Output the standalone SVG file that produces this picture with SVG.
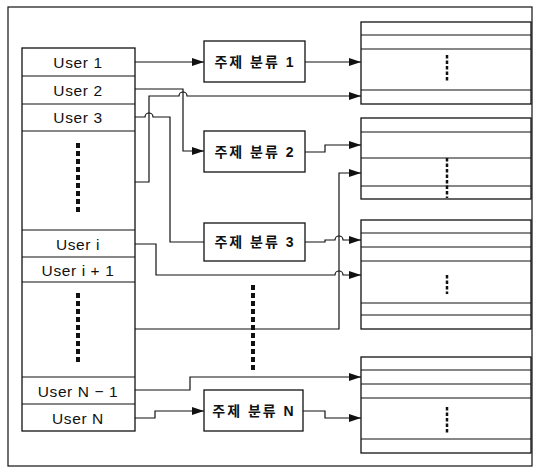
<svg xmlns="http://www.w3.org/2000/svg" width="540" height="470" viewBox="0 0 540 470">
<style>
.box{fill:#fff;stroke:#111;stroke-width:1.3}
.ln{fill:none;stroke:#111;stroke-width:1.2}
.wire{fill:none;stroke:#111;stroke-width:1.2}
.ut{font-family:"Liberation Sans",Arial,sans-serif;font-size:15.5px;fill:#111;text-anchor:middle;dominant-baseline:central;letter-spacing:0.6px}
.tt{font-family:"Liberation Sans","Noto Sans CJK KR",sans-serif;font-size:14px;font-weight:bold;fill:#111;text-anchor:middle;dominant-baseline:central;letter-spacing:2px}
.dotsB{fill:none;stroke:#111;stroke-width:4;stroke-dasharray:5 3;stroke-linecap:butt}
.dotsS{fill:none;stroke:#111;stroke-width:2.5;stroke-dasharray:3.5 2}
</style>
<defs>
<marker id="ah" viewBox="0 0 12 8" refX="12" refY="4" markerWidth="12" markerHeight="8" markerUnits="userSpaceOnUse" orient="auto">
<path d="M0,0 L12,4 L0,8 z" fill="#111"/>
</marker>
</defs>
<rect x="8" y="7" width="524" height="459" fill="none" stroke="#111" stroke-width="1.2"/>
<g id="users">
<rect class="box" x="22" y="48" width="113" height="383"/>
<path class="ln" d="M22,76H135M22,104H135M22,131H135M22,230H135M22,257H135M22,282H135M22,377H135M22,404H135"/>
<text class="ut" x="78" y="62">User 1</text>
<text class="ut" x="78" y="90">User 2</text>
<text class="ut" x="78" y="117">User 3</text>
<text class="ut" x="78" y="244">User i</text>
<text class="ut" x="78" y="270">User i + 1</text>
<text class="ut" x="78" y="391">User N − 1</text>
<text class="ut" x="78" y="418">User N</text>
<path class="dotsB" d="M78,143V214M78,293V363"/>
</g>
<g id="topic1"><rect class="box" x="204" y="41" width="101" height="41"/><text class="tt" x="255" y="62">주제 분류 1</text></g>
<g id="topic2"><rect class="box" x="204" y="131" width="101" height="41"/><text class="tt" x="255" y="152">주제 분류 2</text></g>
<g id="topic3"><rect class="box" x="204" y="223" width="101" height="38"/><text class="tt" x="255" y="242">주제 분류 3</text></g>
<g id="topicN"><rect class="box" x="204" y="390" width="99" height="41"/><text class="tt" x="254" y="411">주제 분류 N</text></g>
<g id="table1">
<rect class="box" x="361" y="22" width="170" height="82"/>
<path class="ln" d="M361,35H531M361,49H531M361,90H531"/>
<path class="dotsS" d="M447,55V81"/>
</g>
<g id="table2">
<rect class="box" x="361" y="118" width="170" height="81"/>
<path class="ln" d="M361,132H531M361,158H531M361,186H531"/>
<path class="dotsS" d="M447,158V198"/>
</g>
<g id="table3">
<rect class="box" x="361" y="220" width="170" height="109"/>
<path class="ln" d="M361,233H531M361,247H531M361,261H531M361,303H531M361,315H531"/>
<path class="dotsS" d="M447,275V294"/>
</g>
<g id="table4">
<rect class="box" x="361" y="357" width="170" height="96"/>
<path class="ln" d="M361,370H531M361,384H531M361,398H531M361,439H531"/>
<path class="dotsS" d="M447,407V434"/>
</g>
<path id="midDots" class="dotsB" d="M253,285V370" stroke-width="4.5"/>
<g id="connectors">
<path class="wire" d="M135,62H204" marker-end="url(#ah)" stroke-width="1"/>
<path class="wire" d="M305,62H361" marker-end="url(#ah)"/>
<path class="wire" d="M135,89H183V151H204" marker-end="url(#ah)"/>
<path class="wire" d="M135,182H149V96H179a4,4 0 0 1 8,0H361" marker-end="url(#ah)"/>
<path class="wire" d="M135,117H145a4,4 0 0 1 8,0H170V242H204"/>
<path class="wire" d="M305,152H325V145H361" marker-end="url(#ah)"/>
<path class="wire" d="M135,329H339V173H361" marker-end="url(#ah)"/>
<path class="wire" d="M305,242H325V240H335a4,4 0 0 1 8,0H361" marker-end="url(#ah)"/>
<path class="wire" d="M135,244H156V275H335a4,4 0 0 1 8,0H361" marker-end="url(#ah)"/>
<path class="wire" d="M135,390H190V377H361" marker-end="url(#ah)"/>
<path class="wire" d="M135,418H155V411H204" marker-end="url(#ah)"/>
<path class="wire" d="M303,411H325V418H361" marker-end="url(#ah)"/>
</g>
</svg>
